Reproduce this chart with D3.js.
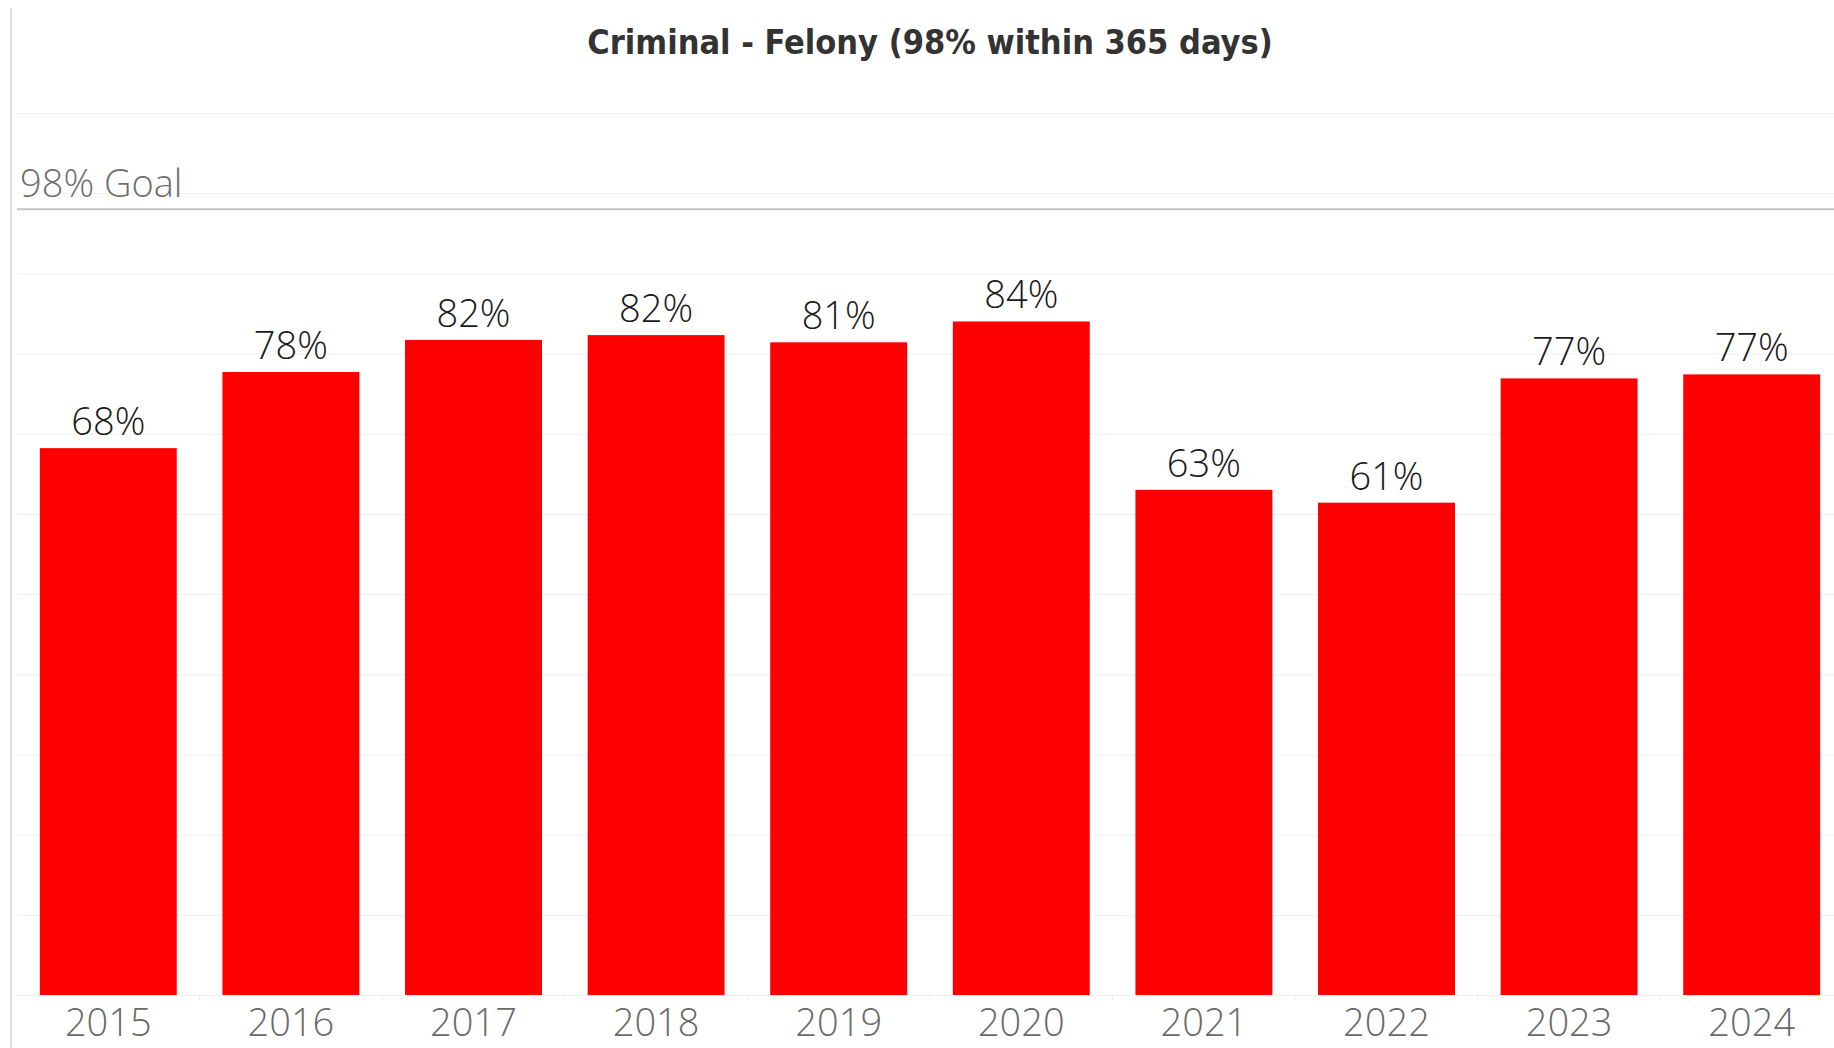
<!DOCTYPE html>
<html lang="en">
<head>
<meta charset="utf-8">
<title>Criminal - Felony</title>
<script src="https://cdn.jsdelivr.net/npm/d3@7"></script>
<style>
body {
  margin: 0;
  background: #fff;
  font-family: "Open Sans", "Noto Sans", sans-serif;
}
svg { display: block; }
</style>
</head>
<body>
<script>

// data
var years = ["2015", "2016", "2017", "2018", "2019", "2020", "2021", "2022", "2023", "2024"];
var rates = [0.682, 0.777, 0.817, 0.823, 0.814, 0.840, 0.630, 0.614, 0.769, 0.774];
var goal = 0.98;
var goalLabel = "98% Goal";
var gridValues = [0, 0.1, 0.2, 0.3, 0.4, 0.5, 0.6, 0.7, 0.8, 0.9, 1.0, 1.1];
var title = "Criminal - Felony (98% within 365 days)";

var width = 1834,
    height = 1048;

var svg = d3.select("body")
  .append("svg")
  .attr("width", width)
  .attr("height", height);

var x = d3.scaleBand()
  .domain(years)
  .range([17, 1843])
  .paddingInner(0.25)
  .paddingOuter(0.125);

var y = d3.scaleLinear()
  .domain([0, 1.1])
  .range([995, 113]);

// left border of the pane
svg.append("line")
  .attr("x1", 11).attr("x2", 11)
  .attr("y1", 8).attr("y2", height)
  .attr("stroke", "#d4d4d4")
  .attr("stroke-width", 1.5);

// faint gridlines
svg.append("g")
  .selectAll("line")
  .data(gridValues)
  .enter()
  .append("line")
  .attr("x1", 17).attr("x2", width)
  .attr("y1", function(d){ return y(d) + 0.5; })
  .attr("y2", function(d){ return y(d) + 0.5; })
  .attr("stroke", "#f0f0f0")
  .attr("stroke-width", 1);

// little ticks between the bars on the baseline
svg.append("g")
  .selectAll("line")
  .data(years.slice(1))
  .enter()
  .append("line")
  .attr("x1", function(d){ return x(d) - x.step() * x.paddingInner() / 2; })
  .attr("x2", function(d){ return x(d) - x.step() * x.paddingInner() / 2; })
  .attr("y1", y(0)).attr("y2", y(0) + 5)
  .attr("stroke", "#eeeeee");

// title
svg.append("text")
  .attr("x", (x.range()[0] + x.range()[1]) / 2)
  .attr("y", 54)
  .attr("text-anchor", "middle")
  .style("font-family", "'Liberation Sans Narrow', 'DejaVu Sans Condensed', 'Open Sans', sans-serif")
  .style("font-weight", "bold")
  .style("font-size", "34px")
  .attr("fill", "#333333")
  .text(title);

// goal reference line
svg.append("line")
  .attr("x1", 17).attr("x2", width)
  .attr("y1", y(goal)).attr("y2", y(goal))
  .attr("stroke", "#c4c4c4")
  .attr("stroke-width", 2);

svg.append("text")
  .attr("x", 20)
  .attr("y", y(goal) - 12)
  .style("font-size", "38px")
  .style("font-weight", 300)
  .attr("fill", "#6f6f6f")
  .text(goalLabel);

var data = years.map(function(yr, i){ return { year: yr, value: rates[i] }; });

// bars
svg.append("g")
  .selectAll("rect")
  .data(data)
  .enter()
  .append("rect")
  .attr("x", function(d){ return x(d.year); })
  .attr("y", function(d){ return y(d.value); })
  .attr("width", x.bandwidth())
  .attr("height", function(d){ return y(0) - y(d.value); })
  .attr("fill", "#ff0000");

// value labels
svg.append("g")
  .selectAll("text")
  .data(data)
  .enter()
  .append("text")
  .attr("x", function(d){ return x(d.year) + x.bandwidth() / 2; })
  .attr("y", function(d){ return y(d.value) - 13; })
  .attr("text-anchor", "middle")
  .style("font-size", "38px")
  .style("font-weight", 300)
  .attr("fill", "#1a1a1a")
  .text(function(d){ return Math.round(d.value * 100) + "%"; });

// year labels
svg.append("g")
  .selectAll("text")
  .data(years)
  .enter()
  .append("text")
  .attr("x", function(d){ return x(d) + x.bandwidth() / 2; })
  .attr("y", 1036)
  .attr("text-anchor", "middle")
  .style("font-size", "38px")
  .style("font-weight", 300)
  .attr("fill", "#6a6a6a")
  .text(function(d){ return d; });

</script>
</body>
</html>
